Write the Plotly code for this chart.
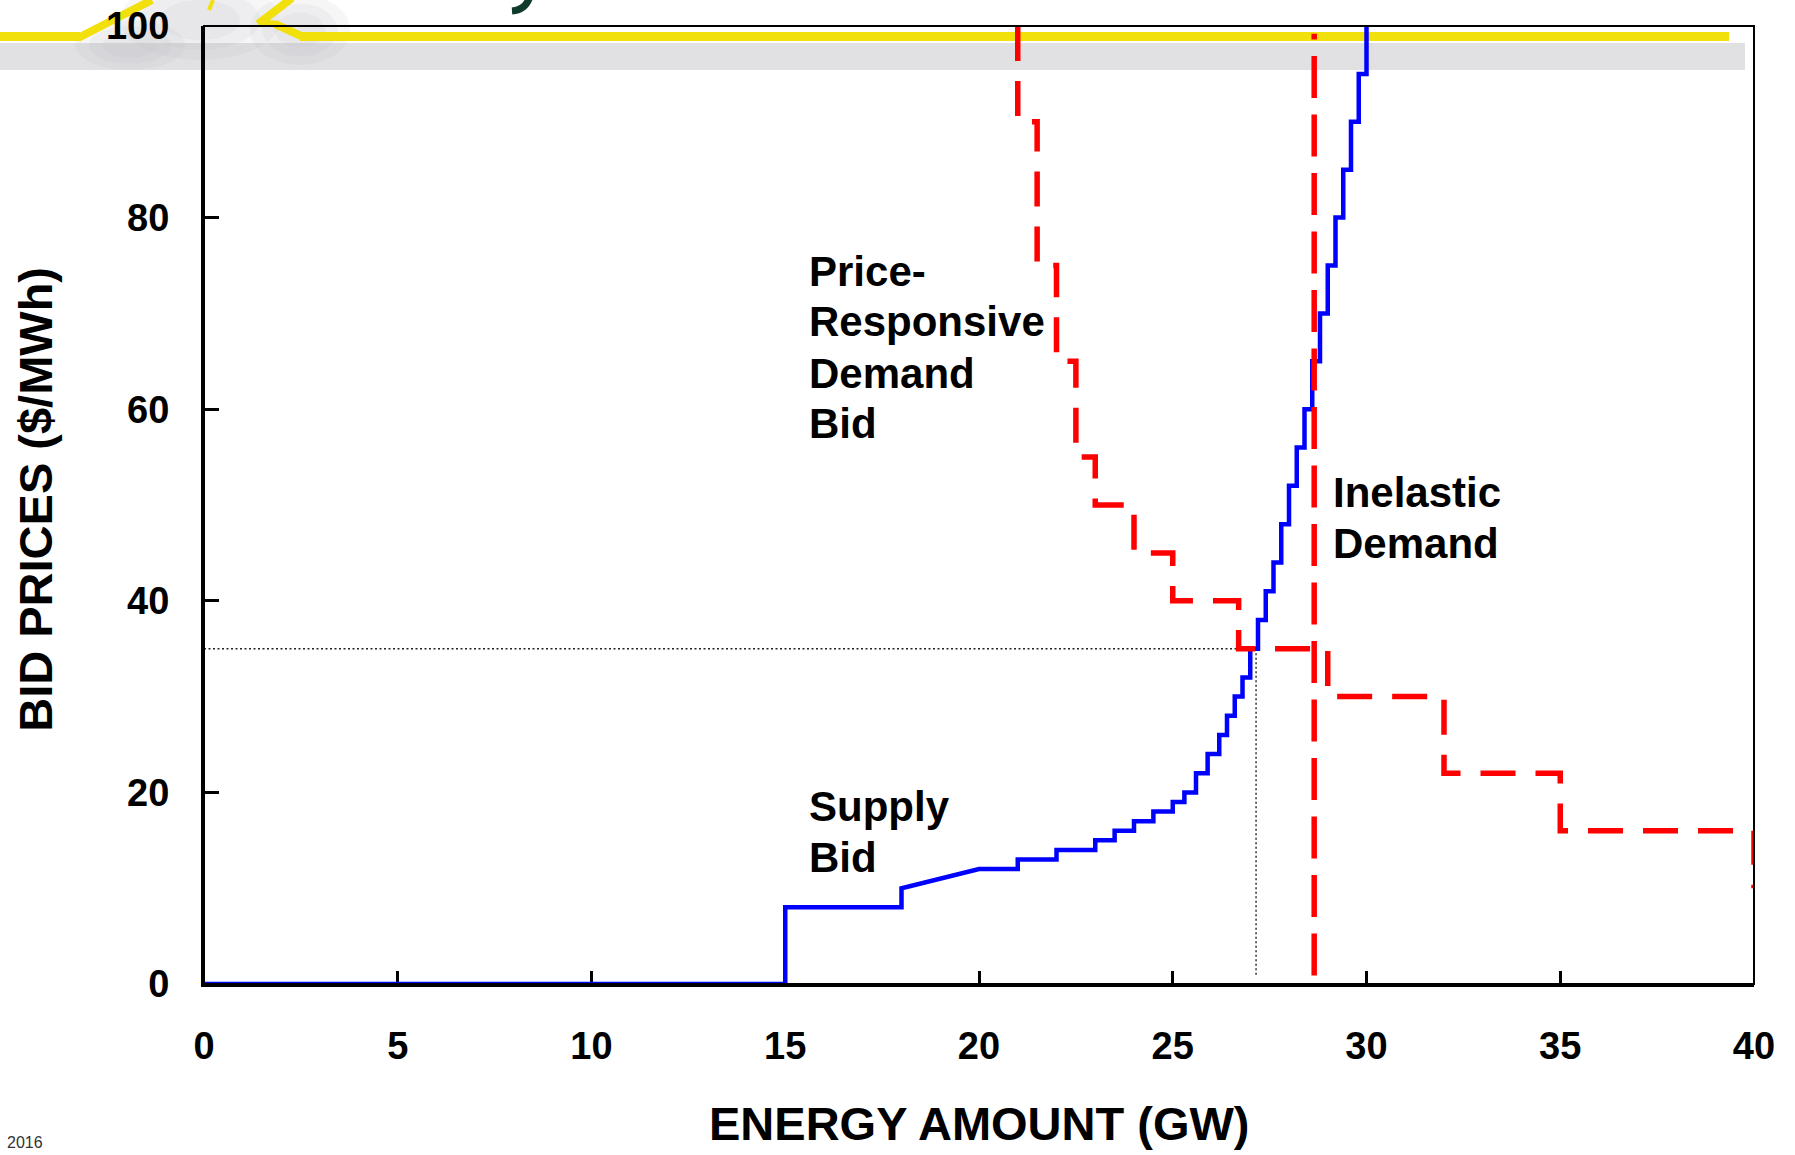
import plotly.graph_objects as go

# ---------------- data ----------------
# Supply bid curve (GW, $/MWh) vertices
supply_q = [0, 15, 15, 18, 18, 20, 21, 21, 22, 22, 23, 23, 23.5, 23.5, 24, 24, 24.5, 24.5,
            25, 25, 25.3, 25.3, 25.6, 25.6, 25.9, 25.9, 26.2, 26.2, 26.4, 26.4, 26.6, 26.6,
            26.8, 26.8, 27.0, 27.0, 27.2, 27.2, 27.4, 27.4, 27.6, 27.6, 27.8, 27.8, 28.0, 28.0,
            28.2, 28.2, 28.4, 28.4, 28.6, 28.6, 28.8, 28.8, 29.0, 29.0, 29.2, 29.2, 29.4, 29.4,
            29.6, 29.6, 29.8, 29.8, 30.0, 30.0]
supply_p = [0, 0, 8, 8, 10, 12, 12, 13, 13, 14, 14, 15, 15, 16, 16, 17, 17, 18,
            18, 19, 19, 20, 20, 22, 22, 24, 24, 26, 26, 28, 28, 30,
            30, 32, 32, 35, 35, 38, 38, 41, 41, 44, 44, 48, 48, 52,
            52, 56, 56, 60, 60, 65, 65, 70, 70, 75, 75, 80, 80, 85,
            85, 90, 90, 95, 95, 100]

# Price-responsive demand bid (step, vertical-then-horizontal)
demand_q = [21, 21.5, 22, 22.5, 23, 24, 25, 26.7, 29, 32, 35, 40, 40]
demand_p = [100, 90, 75, 65, 55, 50, 45, 40, 35, 30, 22, 16, 10]

# Inelastic demand
inelastic_q = [28.65, 28.65]
inelastic_p = [0.9, 99.2]

# Market clearing point
clear_q = 27.15
clear_p = 35

x_ticks = [0, 5, 10, 15, 20, 25, 30, 35, 40]
y_ticks = [0, 20, 40, 60, 80, 100]

# ---------------- layout constants ----------------
W, H = 1795, 1155
L, R, T, B = 204, 41, 26, 170.5
PW, PH = W - L - R, H - T - B
FONT = "Liberation Sans, Arial, Helvetica, sans-serif"


def P(X, Y):
    """pixel -> paper coords"""
    return (X - L) / PW, (H - B - Y) / PH


fig = go.Figure()

# dotted guide lines at clearing point
fig.add_trace(go.Scatter(x=[0, clear_q], y=[clear_p, clear_p], mode="lines",
                         line=dict(color="#222", width=1.4, dash="2px,2.5px"),
                         hoverinfo="skip", showlegend=False))
fig.add_trace(go.Scatter(x=[clear_q, clear_q], y=[clear_p, 0.8], mode="lines",
                         line=dict(color="#222", width=1.4, dash="2px,2.5px"),
                         hoverinfo="skip", showlegend=False))

fig.add_trace(go.Scatter(x=supply_q, y=supply_p, mode="lines", name="Supply Bid",
                         line=dict(color="#0000ff", width=4.5), cliponaxis=False,
                         showlegend=False))
fig.add_trace(go.Scatter(x=demand_q, y=demand_p, mode="lines", name="Price-Responsive Demand Bid",
                         line=dict(color="#ff0000", width=5.5, dash="35px,20px", shape="vh"),
                         cliponaxis=False, showlegend=False))
fig.add_trace(go.Scatter(x=inelastic_q, y=inelastic_p, mode="lines", name="Inelastic Demand",
                         line=dict(color="#ff0000", width=5.5, dash="42px,16.5px"),
                         cliponaxis=False, showlegend=False))

shapes = []
# slide-template decoration (gray band + blurred shadows + yellow stroke)
x0, y0 = P(0, 43)
x1, y1 = P(1745, 70)
shapes.append(dict(type="rect", xref="paper", yref="paper", x0=x0, y0=y0, x1=x1, y1=y1,
                   fillcolor="#e1e1e3", line=dict(width=0), layer="below"))
for (cx, cy, rx, ry) in [(200, 20, 80, 40), (300, 30, 50, 35), (130, 45, 55, 25)]:
    for k in (1.0, 0.75, 0.5):
        a0, b0 = P(cx - rx * k, cy + ry * k)
        a1, b1 = P(cx + rx * k, cy - ry * k)
        shapes.append(dict(type="circle", xref="paper", yref="paper", x0=a0, y0=b0, x1=a1, y1=b1,
                           fillcolor="#bdbdc2", opacity=0.13, line=dict(width=0), layer="below"))


def seg(Xa, Ya, Xb, Yb, w=9):
    a, b = P(Xa, Ya)
    c, d = P(Xb, Yb)
    return dict(type="line", xref="paper", yref="paper", x0=a, y0=b, x1=c, y1=d,
                line=dict(color="#f2e00c", width=w), layer="below")


shapes += [seg(0, 36.5, 80, 36.5), seg(78, 38, 152, 0, 8), seg(213, 0, 209, 10, 4),
           seg(258, 24, 292, -2, 8), seg(260, 22, 277, 24, 6), seg(275, 24, 302, 36.5, 8),
           seg(300, 36.5, 1729, 36.5)]

# fragment of the slide title glyph at top edge (decoration)
pa = P(530, -4)
pb = P(526, 10)
pc = P(512, 11)
shapes.append(dict(type="path", xref="paper", yref="paper",
                   path=f"M {pa[0]},{pa[1]} Q {pb[0]},{pb[1]} {pc[0]},{pc[1]}",
                   line=dict(color="#0e3b2c", width=7), layer="below"))

# frame (thin top/right border)
shapes.append(dict(type="rect", xref="x domain", yref="y domain", x0=0, y0=0, x1=1, y1=1,
                   line=dict(color="black", width=2), layer="above"))

annotations = []


def label(text, Xl, Ybase, size=42):
    xa, ya = P(Xl, Ybase - 0.30 * size)
    annotations.append(dict(text=text, xref="paper", yref="paper", x=xa, y=ya,
                            xanchor="left", yanchor="middle", showarrow=False,
                            font=dict(family=FONT, size=size, color="black", weight="bold")))


for t, yb in [("Price-", 284), ("Responsive", 334), ("Demand", 386), ("Bid", 436)]:
    label(t, 807, yb)
for t, yb in [("Supply", 820), ("Bid", 871)]:
    label(t, 807, yb)
for t, yb in [("Inelastic", 505), ("Demand", 556)]:
    label(t, 1331, yb)

# axis titles
xa, ya = P(979, 1124)
annotations.append(dict(text="ENERGY AMOUNT (GW)", xref="paper", yref="paper", x=xa, y=ya,
                        xanchor="center", yanchor="middle", showarrow=False,
                        font=dict(family=FONT, size=47, color="black", weight="bold")))
xa, ya = P(36, 500)
annotations.append(dict(text="BID PRICES ($/MWh)", xref="paper", yref="paper", x=xa, y=ya,
                        xanchor="center", yanchor="middle", showarrow=False, textangle=-90,
                        font=dict(family=FONT, size=47, color="black", weight="bold")))

# template footer fragment
xa, ya = P(5, 1154)
annotations.append(dict(text="2016", xref="paper", yref="paper", x=xa, y=ya,
                        xanchor="left", yanchor="bottom", showarrow=False,
                        font=dict(family=FONT, size=16, color="#333")))

fig.update_layout(
    width=W, height=H,
    margin=dict(l=L, r=R, t=T, b=B, pad=0, autoexpand=False),
    paper_bgcolor="white", plot_bgcolor="rgba(0,0,0,0)",
    shapes=shapes, annotations=annotations,
    showlegend=False,
    font=dict(family=FONT, color="black"),
)
fig.update_xaxes(range=[0, 40], tickvals=x_ticks, ticktext=[str(v) for v in x_ticks],
                 ticks="inside", ticklen=13, tickwidth=2.5, tickcolor="black",
                 showline=True, linewidth=3, linecolor="black", showgrid=False, zeroline=False,
                 tickfont=dict(family=FONT, size=38, color="black", weight="bold"),
                 ticklabelstandoff=26, layer="below traces", automargin=False)
fig.update_yaxes(range=[0, 100], tickvals=y_ticks, ticktext=[str(v) for v in y_ticks],
                 ticks="inside", ticklen=15, tickwidth=2.5, tickcolor="black",
                 showline=True, linewidth=3, linecolor="black", showgrid=False, zeroline=False,
                 tickfont=dict(family=FONT, size=38, color="black", weight="bold"),
                 ticklabelstandoff=24, layer="below traces", automargin=False)

fig.write_html("out.html", config={"displayModeBar": False},
               post_script="document.body.style.margin='0';document.body.style.overflow='hidden';")
